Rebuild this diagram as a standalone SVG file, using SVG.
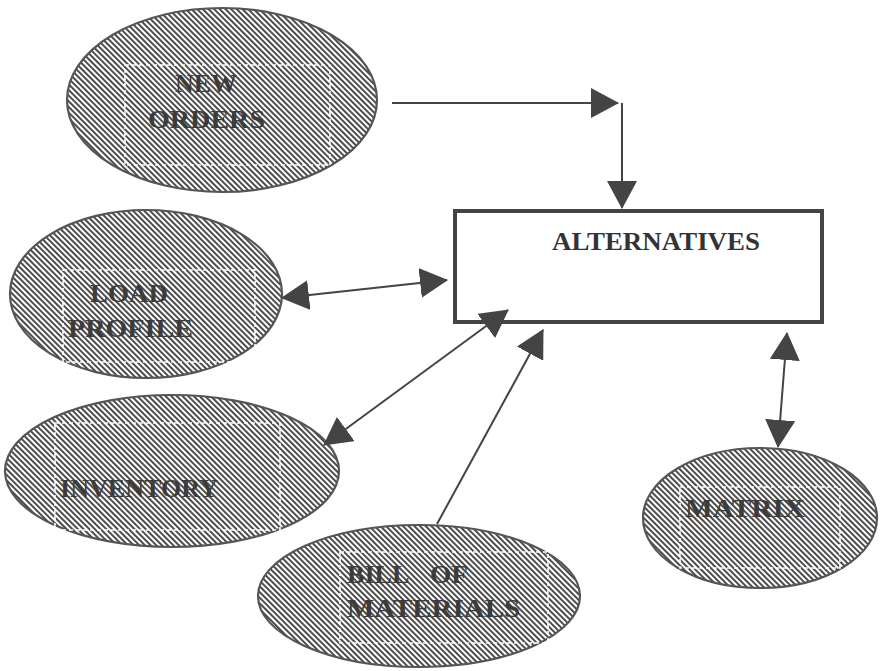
<svg xmlns="http://www.w3.org/2000/svg" width="880" height="671" viewBox="0 0 880 671">
<defs>
<pattern id="hatch" patternUnits="userSpaceOnUse" width="4" height="10" patternTransform="rotate(-45)">
<rect width="4" height="10" fill="#ffffff"/>
<rect width="1.9" height="10" fill="#444444"/>
</pattern>
<marker id="ah" viewBox="0 0 28 30" refX="27" refY="15" markerWidth="28" markerHeight="30" markerUnits="userSpaceOnUse" orient="auto-start-reverse">
<path d="M0,0 L28,15 L0,30 Z" fill="#444444"/>
</marker>
</defs>
<style>
.ell{fill:url(#hatch);stroke:#555555;stroke-width:2.2}
.dash{fill:none;stroke:#ffffff;stroke-width:1.6;stroke-dasharray:4 3}
.lbl{font-family:"Liberation Serif","Times New Roman",serif;font-weight:bold;font-size:26px;fill:#3c3c3c}
.con{fill:none;stroke:#444444;stroke-width:2}
</style>
<rect width="880" height="671" fill="#ffffff"/>
<g id="new-orders">
<ellipse class="ell" cx="222" cy="100" rx="155" ry="92"/>
<rect class="dash" x="125" y="65" width="205" height="100"/>
<text class="lbl" x="175" y="92" textLength="62" lengthAdjust="spacingAndGlyphs">NEW</text>
<text class="lbl" x="148" y="128" textLength="117" lengthAdjust="spacingAndGlyphs">ORDERS</text>
</g>
<g id="load-profile">
<ellipse class="ell" cx="146" cy="294" rx="136" ry="84"/>
<rect class="dash" x="63" y="270" width="192" height="92"/>
<text class="lbl" x="90" y="302" textLength="78" lengthAdjust="spacingAndGlyphs">LOAD</text>
<text class="lbl" x="68" y="337" textLength="125" lengthAdjust="spacingAndGlyphs">PROFILE</text>
</g>
<g id="inventory">
<ellipse class="ell" cx="172" cy="471" rx="167" ry="76"/>
<rect class="dash" x="55" y="423" width="225" height="107"/>
<text class="lbl" x="60" y="497" textLength="158" lengthAdjust="spacingAndGlyphs">INVENTORY</text>
</g>
<g id="bill-of-materials">
<ellipse class="ell" cx="419" cy="596" rx="161" ry="71"/>
<rect class="dash" x="340" y="552" width="208" height="91"/>
<text class="lbl" y="583"><tspan x="347" textLength="61" lengthAdjust="spacingAndGlyphs">BILL</tspan> <tspan x="430" textLength="38" lengthAdjust="spacingAndGlyphs">OF</tspan></text>
<text class="lbl" x="347" y="617" textLength="173" lengthAdjust="spacingAndGlyphs">MATERIALS</text>
</g>
<g id="matrix">
<ellipse class="ell" cx="760" cy="518" rx="117" ry="70"/>
<rect class="dash" x="680" y="487" width="160" height="81"/>
<text class="lbl" x="685" y="517" textLength="120" lengthAdjust="spacingAndGlyphs">MATRIX</text>
</g>
<g id="alternatives">
<rect x="455" y="211" width="367" height="111" fill="#ffffff" stroke="#444444" stroke-width="4"/>
<text class="lbl" x="552" y="250" textLength="208" lengthAdjust="spacingAndGlyphs" style="fill:#333333">ALTERNATIVES</text>
</g>
<g id="connectors">
<path class="con" d="M392,103 L618,103" marker-end="url(#ah)"/>
<path class="con" d="M622,103 L622,208" marker-end="url(#ah)"/>
<path class="con" d="M282,298 L447,280" marker-start="url(#ah)" marker-end="url(#ah)"/>
<path class="con" d="M324,445 L508,310" marker-start="url(#ah)" marker-end="url(#ah)"/>
<path class="con" d="M437,524 L543,330" marker-end="url(#ah)"/>
<path class="con" d="M778,447 L787,333" marker-start="url(#ah)" marker-end="url(#ah)"/>
</g>
</svg>
